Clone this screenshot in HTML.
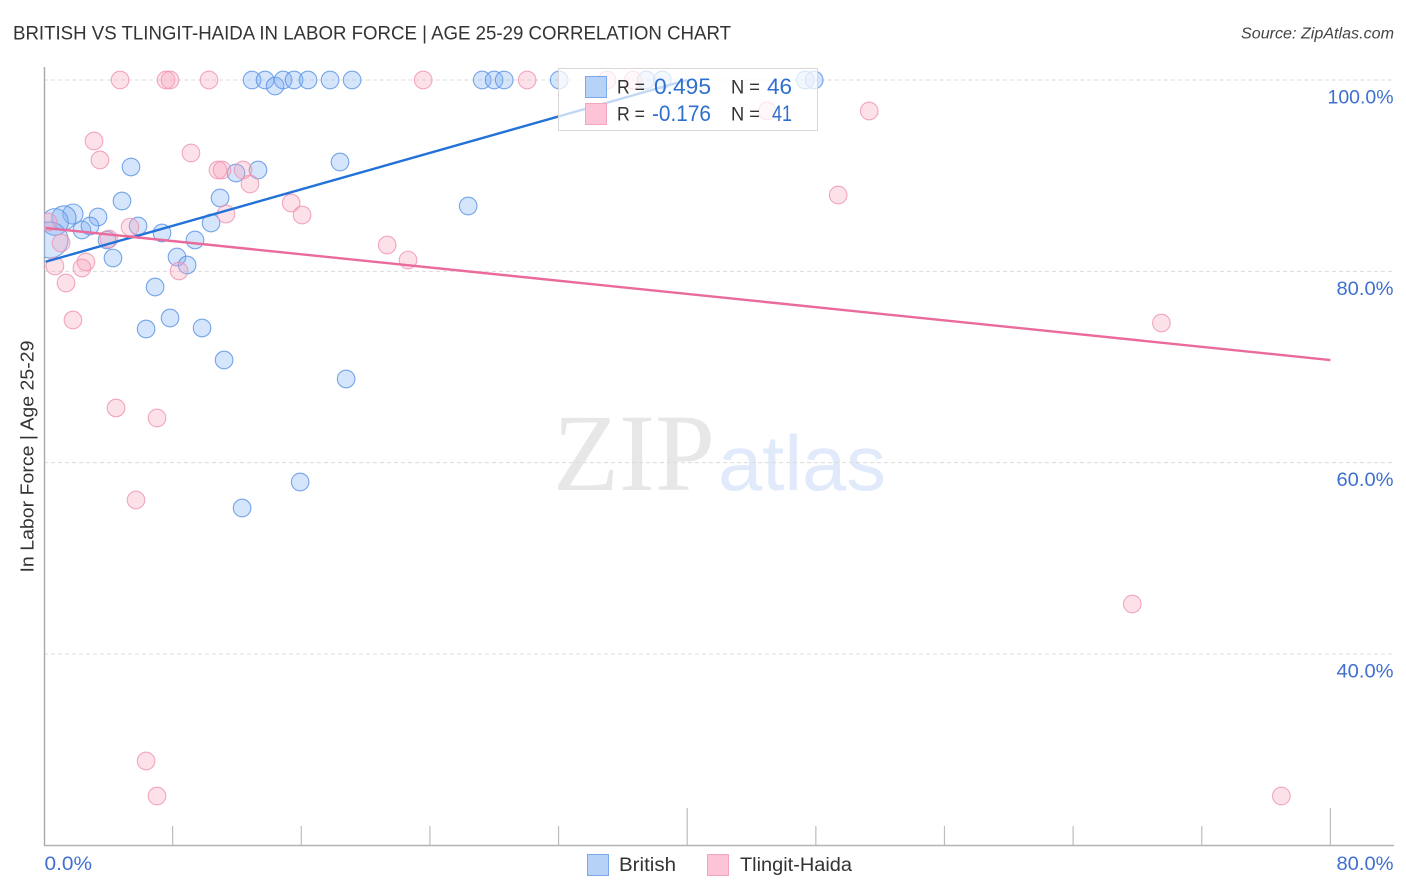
<!DOCTYPE html>
<html lang="en">
<head>
<meta charset="utf-8">
<title>British vs Tlingit-Haida in Labor Force | Age 25-29 Correlation Chart</title>
<style>
html,body{margin:0;padding:0;background:#fff;width:1406px;height:892px;overflow:hidden}
svg{display:block}
text{font-family:"Liberation Sans",sans-serif}
</style>
</head>
<body>
<svg id="chart" xmlns="http://www.w3.org/2000/svg" width="1406" height="892" viewBox="0 0 1406 892">
  <defs><clipPath id="plot-clip"><rect x="44" y="60" width="1350" height="785"/></clipPath></defs>
  <text x="13" y="39.5" font-size="19" fill="#333" textLength="718" lengthAdjust="spacingAndGlyphs">BRITISH VS TLINGIT-HAIDA IN LABOR FORCE | AGE 25-29 CORRELATION CHART</text>
  <text x="1241" y="38.5" font-size="15.5" font-style="italic" fill="#444" textLength="153" lengthAdjust="spacingAndGlyphs">Source: ZipAtlas.com</text>
  <g>
    <text x="553" y="490" font-size="110" fill="#e7e7e7" style="font-family:'Liberation Serif',serif" textLength="162" lengthAdjust="spacingAndGlyphs">ZIP</text>
    <text x="718" y="490" font-size="78" fill="#e0eafa" textLength="168" lengthAdjust="spacingAndGlyphs">atlas</text>
  </g>
  <g id="grid"></g>
  <g id="axes"></g>
  <g id="points" clip-path="url(#plot-clip)"></g>
  <g id="trends"></g>
  <g>
    <rect x="558.5" y="68.5" width="259" height="62" fill="#fff" fill-opacity="0.72" stroke="#d8d8d8" stroke-width="1"/>
    <rect x="585.5" y="76.5" width="21" height="21" fill="#b6d2f7" stroke="#7aa8e8"/>
    <rect x="585.5" y="103.5" width="21" height="21" fill="#fcc4d6" stroke="#f3a6bf"/>
    <text x="617" y="93.5" font-size="19.5" fill="#333" textLength="28" lengthAdjust="spacingAndGlyphs">R =</text>
    <text x="654" y="94" font-size="22" fill="#2f6fd0" textLength="57" lengthAdjust="spacingAndGlyphs">0.495</text>
    <text x="731" y="93.5" font-size="19.5" fill="#333" textLength="29" lengthAdjust="spacingAndGlyphs">N =</text>
    <text x="767" y="94" font-size="22" fill="#2f6fd0" textLength="25" lengthAdjust="spacingAndGlyphs">46</text>
    <text x="617" y="120.5" font-size="19.5" fill="#333" textLength="28" lengthAdjust="spacingAndGlyphs">R =</text>
    <text x="652" y="121" font-size="22" fill="#2f6fd0" textLength="59" lengthAdjust="spacingAndGlyphs">-0.176</text>
    <text x="731" y="120.5" font-size="19.5" fill="#333" textLength="29" lengthAdjust="spacingAndGlyphs">N =</text>
    <text x="772" y="121" font-size="22" fill="#2f6fd0" textLength="20" lengthAdjust="spacingAndGlyphs">41</text>
  </g>
  <text transform="translate(33.5,456.5) rotate(-90)" font-size="18.5" fill="#333" text-anchor="middle" textLength="232" lengthAdjust="spacingAndGlyphs">In Labor Force | Age 25-29</text>
  <g>
    <rect x="587.5" y="854.5" width="21" height="21" fill="#b6d2f7" stroke="#7aa8e8"/>
    <text x="619" y="871" font-size="19" fill="#333" textLength="57" lengthAdjust="spacingAndGlyphs">British</text>
    <rect x="707.5" y="854.5" width="21" height="21" fill="#fcc4d6" stroke="#f3a6bf"/>
    <text x="740" y="871" font-size="19" fill="#333" textLength="112" lengthAdjust="spacingAndGlyphs">Tlingit-Haida</text>
  </g>
</svg>
<script>
const britishX = [12.94,13.75,14.37,14.87,15.55,16.42,17.79,19.16,27.25,27.99,28.62,32.04,37.45,38.45,47.34,47.90,5.41,4.85,3.36,2.36,2.86,1.80,1.24,0.68,0.37,3.92,4.29,5.85,7.34,8.27,8.90,9.39,10.39,10.95,11.94,13.31,18.41,26.38,6.91,6.35,7.84,9.83,11.20,18.79,15.93,12.32];
const britishY = [100,100,99.37,100,100,100,100,100,100,100,100,100,100,100,100,100,90.91,87.35,85.68,84.32,84.74,85.99,85.58,85.16,83.28,83.28,81.39,84.74,84.01,81.50,80.66,83.28,85.05,87.67,90.28,90.59,91.43,86.83,78.36,73.97,75.12,74.08,70.73,68.75,57.98,55.26];
const britishWeight = [1,1,1,1,1,1,1,1,1,1,1,1,1,1,1,1,1,1,1,1,1,1.3,1.9,2.3,4.2,1,1,1,1,1,1,1,1,1,1,1,1,1,1,1,1,1,1,1,1,1];
const tlingitX = [4.73,7.59,7.84,10.26,23.58,30.05,35.02,36.64,44.98,51.32,3.11,3.48,9.14,10.82,11.07,12.38,12.81,11.32,15.37,16.05,49.39,5.35,4.04,1.06,21.34,22.64,2.61,2.36,0.68,8.40,1.37,1.80,69.49,4.48,7.03,5.72,67.68,6.35,7.03,76.95,0.25];
const tlingitY = [100,100,100,100,100,100,100,100,96.76,96.76,93.62,91.64,92.37,90.59,90.59,90.59,89.13,85.99,87.14,85.89,87.98,84.63,83.38,82.96,82.75,81.18,80.98,80.35,80.56,80.04,78.78,74.91,74.60,65.72,64.67,56.10,45.23,28.82,25.16,25.16,85.16];
const britishTrendX = [0.1,40];
const britishTrendY = [81,100];
const tlingitTrendX = [0.1,80];
const tlingitTrendY = [84.53,70.73];
const yTicks = [100,80,60,40];
const yTickLabels = ["100.0%","80.0%","60.0%","40.0%"];
const xTicks = [0,8,16,24,32,40,48,56,64,72,80];
const xMajorTicks = [40,80];
const xEndLabels = ["0.0%","80.0%"];

const NS = "http://www.w3.org/2000/svg";
function xScale(v){ return 44 + v * 16.08; }
function yScale(v){ return 80 + (100 - v) * 9.567; }
function rScale(w){ return 8.8 * Math.sqrt(w); }
function make(tag, attrs, parent){
  const el = document.createElementNS(NS, tag);
  for (const k in attrs) el.setAttribute(k, attrs[k]);
  parent.appendChild(el);
  return el;
}
function labelWidth(s){ return s.length >= 6 ? 66 : 57; }
const gridG = document.getElementById("grid");
const axesG = document.getElementById("axes");
const pointsG = document.getElementById("points");
const trendsG = document.getElementById("trends");

yTicks.forEach(function(t, i){
  const line = make("line", {x1:44, x2:1394, y1:yScale(t), y2:yScale(t), stroke:"#dcdcdc", "stroke-width":1, "stroke-dasharray":"4 3"}, gridG);
  
  
  const w = labelWidth(yTickLabels[i]);
  const label = make("text", {x:1393.5 - w, y:yScale(t)+23.5, "font-size":19, fill:"#3f70cf", textLength:w, lengthAdjust:"spacingAndGlyphs"}, axesG);
  label.textContent = yTickLabels[i];
  
  
});

const yAxis = make("line", {x1:44.5, x2:44.5, y1:67, y2:846, stroke:"#a8a8a8", "stroke-width":1.4}, axesG);


const xAxis = make("line", {x1:44, x2:1394, y1:845.5, y2:845.5, stroke:"#b4b4b4", "stroke-width":1.4}, axesG);



xTicks.forEach(function(t){
  if (t === 0) return;
  const top = xMajorTicks.indexOf(t) >= 0 ? 808 : 826;
  const tick = make("line", {x1:xScale(t), x2:xScale(t), y1:top, y2:845, stroke:"#bdbdbd", "stroke-width":1.2}, axesG);
  
  
});

const xStart = make("text", {x:44.5, y:870, "font-size":19, fill:"#3f70cf", textLength:47.5, lengthAdjust:"spacingAndGlyphs"}, axesG);
xStart.textContent = xEndLabels[0];


const xEnd = make("text", {x:1336.5, y:870, "font-size":19, fill:"#3f70cf", textLength:57, lengthAdjust:"spacingAndGlyphs"}, axesG);
xEnd.textContent = xEndLabels[1];



britishX.forEach(function(v, i){
  const c = make("circle", {cx:xScale(v), cy:yScale(britishY[i]), r:rScale(britishWeight[i]), fill:"#7fb0f2", "fill-opacity":0.33, stroke:"#5f97e6", "stroke-opacity":0.85, "stroke-width":1.1}, pointsG);
  
  
});
tlingitX.forEach(function(v, i){
  const c = make("circle", {cx:xScale(v), cy:yScale(tlingitY[i]), r:rScale(1), fill:"#f9a3bd", "fill-opacity":0.33, stroke:"#ef92b0", "stroke-opacity":0.8, "stroke-width":1.1}, pointsG);
  
  
});

const bTrend = make("line", {x1:xScale(britishTrendX[0]), y1:yScale(britishTrendY[0]), x2:xScale(britishTrendX[1]), y2:yScale(britishTrendY[1]), stroke:"#2272d8", "stroke-width":2.4}, trendsG);


const tTrend = make("line", {x1:xScale(tlingitTrendX[0]), y1:yScale(tlingitTrendY[0]), x2:xScale(tlingitTrendX[1]), y2:yScale(tlingitTrendY[1]), stroke:"#ea6a9b", "stroke-width":2.4}, trendsG);


</script>
</body>
</html>
